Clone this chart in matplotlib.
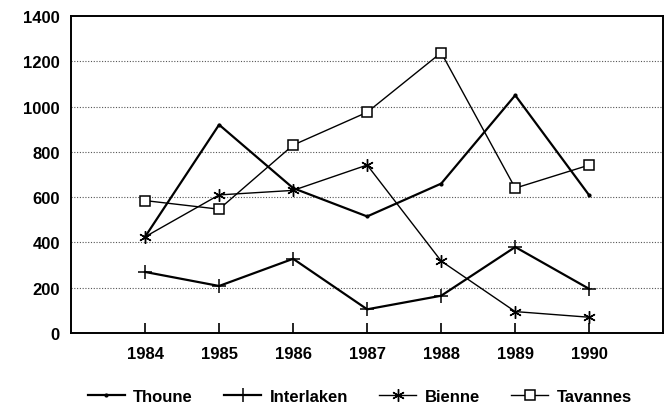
import matplotlib.pyplot as plt

# données
years = [1984, 1985, 1986, 1987, 1988, 1989, 1990]
thoune = [425, 920, 640, 515, 660, 1050, 608]
interlaken = [270, 208, 328, 105, 165, 380, 195]
bienne = [425, 610, 630, 742, 318, 95, 70]
tavannes = [585, 547, 830, 975, 1238, 640, 742]
y_ticks = [0, 200, 400, 600, 800, 1000, 1200, 1400]

plt.rcParams['font.family'] = ['Liberation Sans', 'DejaVu Sans']

fig = plt.figure(figsize=(6.7, 4.14), dpi=100)
ax = fig.add_axes([0.106, 0.193, 0.884, 0.766])

ax.plot(years, thoune, color='black', lw=1.6, marker='o', ms=2, label='Thoune')
ax.plot(years, interlaken, color='black', lw=1.6, marker='+', ms=10, mew=1.1, label='Interlaken')
ax.plot(years, bienne, color='black', lw=1.0, marker=(6, 2, 0), ms=9, mew=1.0, label='Bienne')
ax.plot(years, tavannes, color='black', lw=1.0, marker='s', ms=7, mfc='white', mew=1.1,
        label='Tavannes')

ax.set_xlim(1983, 1991)
ax.set_ylim(0, 1400)
ax.set_xticks(years)
ax.set_yticks(y_ticks)
for y in y_ticks[1:-1]:
    ax.axhline(y, color='#555555', lw=0.8, ls=(0, (1, 1.5)), zorder=0)

ax.tick_params(axis='x', direction='in', length=7, width=1.2, pad=9, labelsize=12)
ax.tick_params(axis='y', length=0, pad=8, labelsize=12)
for lab in ax.get_xticklabels() + ax.get_yticklabels():
    lab.set_fontweight('bold')
for sp in ax.spines.values():
    sp.set_linewidth(1.4)

leg = fig.legend(loc='lower center', ncol=4, frameon=False, bbox_to_anchor=(0.537, -0.015),
                 handlelength=2.2, handletextpad=0.5, columnspacing=1.9,
                 prop={'size': 12, 'weight': 'bold'})

fig.savefig('out.png', dpi=100)
